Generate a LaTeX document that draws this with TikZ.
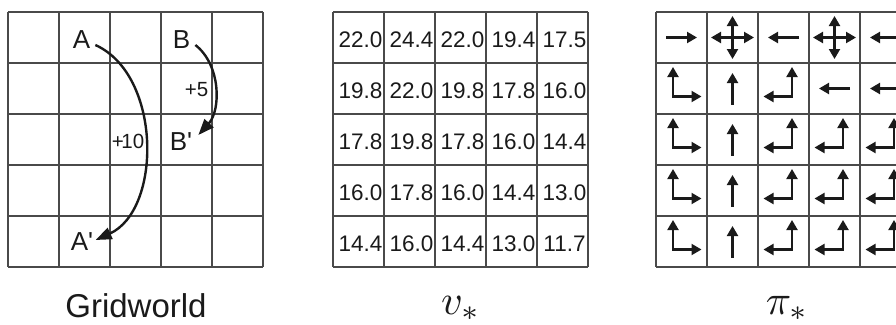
\documentclass[tikz,border=0pt]{standalone}
\usepackage{fontspec}
\setmainfont{Liberation Sans}
\newfontfamily\hvs{Liberation Sans}
\usetikzlibrary{arrows.meta,calc}
\definecolor{gridc}{HTML}{4A4A4A}
\definecolor{ink}{HTML}{1A1A1A}
\begin{document}
\begin{tikzpicture}[x=1pt,y=-1pt,
  gridline/.style={draw=gridc,line width=1.5pt},
  lbl/.style={inner sep=0pt,text=ink,font=\hvs\fontsize{26}{29}\selectfont},
  rew/.style={inner sep=0pt,text=ink,font=\hvs\fontsize{20.5}{23}\selectfont},
  valtext/.style={inner sep=0pt,text=ink,font=\hvs\fontsize{22.5}{25}\selectfont},
  captxt/.style={inner sep=0pt,anchor=base,text=ink},
  jump/.style={draw=ink,line width=2.4pt,-{Triangle[length=16pt,width=12pt]}},
  pol/.style={draw=ink,line width=2.1pt,-{Triangle[length=10pt,width=11pt]}},
  polb/.style={draw=ink,line width=2.1pt,{Triangle[length=10pt,width=11pt]}-{Triangle[length=10pt,width=11pt]}},
  pics/pr/.style={code={\draw[pol] (-15.5,0) -- (15.5,0);}},
  pics/pl/.style={code={\draw[pol] (15.5,0) -- (-15.5,0);}},
  pics/pu/.style={code={\draw[pol] (0,16) -- (0,-15.5);}},
  pics/px/.style={code={\draw[polb] (-21.5,0) -- (21.5,0); \draw[polb] (0,-21.5) -- (0,21.5);}},
  pics/pur/.style={code={\draw[polb] (-8.5,-21.5) -- (-8.5,8) -- (20,8);}},
  pics/pul/.style={code={\draw[polb] (8.5,-21.5) -- (8.5,8) -- (-20,8);}}
]
\useasboundingbox (0,0) rectangle (896,324);
\clip (0,0) rectangle (896,324);

% grids
\foreach \gx in {8,333,656} {
  \foreach \i in {0,...,5} {
    \draw[gridline] (\gx+51*\i,12) -- (\gx+51*\i,267);
    \draw[gridline] (\gx,12+51*\i) -- (\gx+255,12+51*\i);
  }
}

% Gridworld
\node[lbl] (A) at (81.5,40) {A};
\node[lbl] (B) at (181.5,40) {B};
\node[lbl] (Ap) at (82,242) {A'};
\node[lbl] (Bp) at (181,142) {B'};
\node[rew] (r10) at (128,141.5) {+\kern-2.5pt10};
\node[rew] (r5) at (196.5,90) {+5};
\draw[jump] ($(A.east)+(5,5)$) .. controls (162,75) and (162,210) .. ($(Ap.east)+(2.3,-2)$);
\draw[jump] ($(B.east)+(5,5)$) .. controls (221,65) and (221,110) .. ($(Bp.east)+(6,-7)$);

% values
\foreach \row [count=\r from 0] in {{22.0,24.4,22.0,19.4,17.5},{19.8,22.0,19.8,17.8,16.0},{17.8,19.8,17.8,16.0,14.4},{16.0,17.8,16.0,14.4,13.0},{14.4,16.0,14.4,13.0,11.7}} {
  \foreach \val [count=\c from 0] in \row {
    \node[valtext] (v\r\c) at (333+25.5+51*\c+2,12+25.5+51*\r+2) {\val};
  }
}

% policy
\foreach \row [count=\r from 0] in {{pr,px,pl,px,pl},{pur,pu,pul,pl,pl},{pur,pu,pul,pul,pul},{pur,pu,pul,pul,pul},{pur,pu,pul,pul,pul}} {
  \foreach \p [count=\c from 0] in \row {
    \pic at (656+25.5+51*\c,12+25.5+51*\r) {\p};
  }
}

% captions
\node[captxt,font=\hvs\fontsize{33}{36}\selectfont] (gw) at (136,317) {Gridworld};
\node[captxt,scale=4.2] (vs) at (461,314) {$v_*$};
\node[captxt,scale=4.2] (ps) at (787.5,314) {$\pi_*$};
\end{tikzpicture}
\end{document}
